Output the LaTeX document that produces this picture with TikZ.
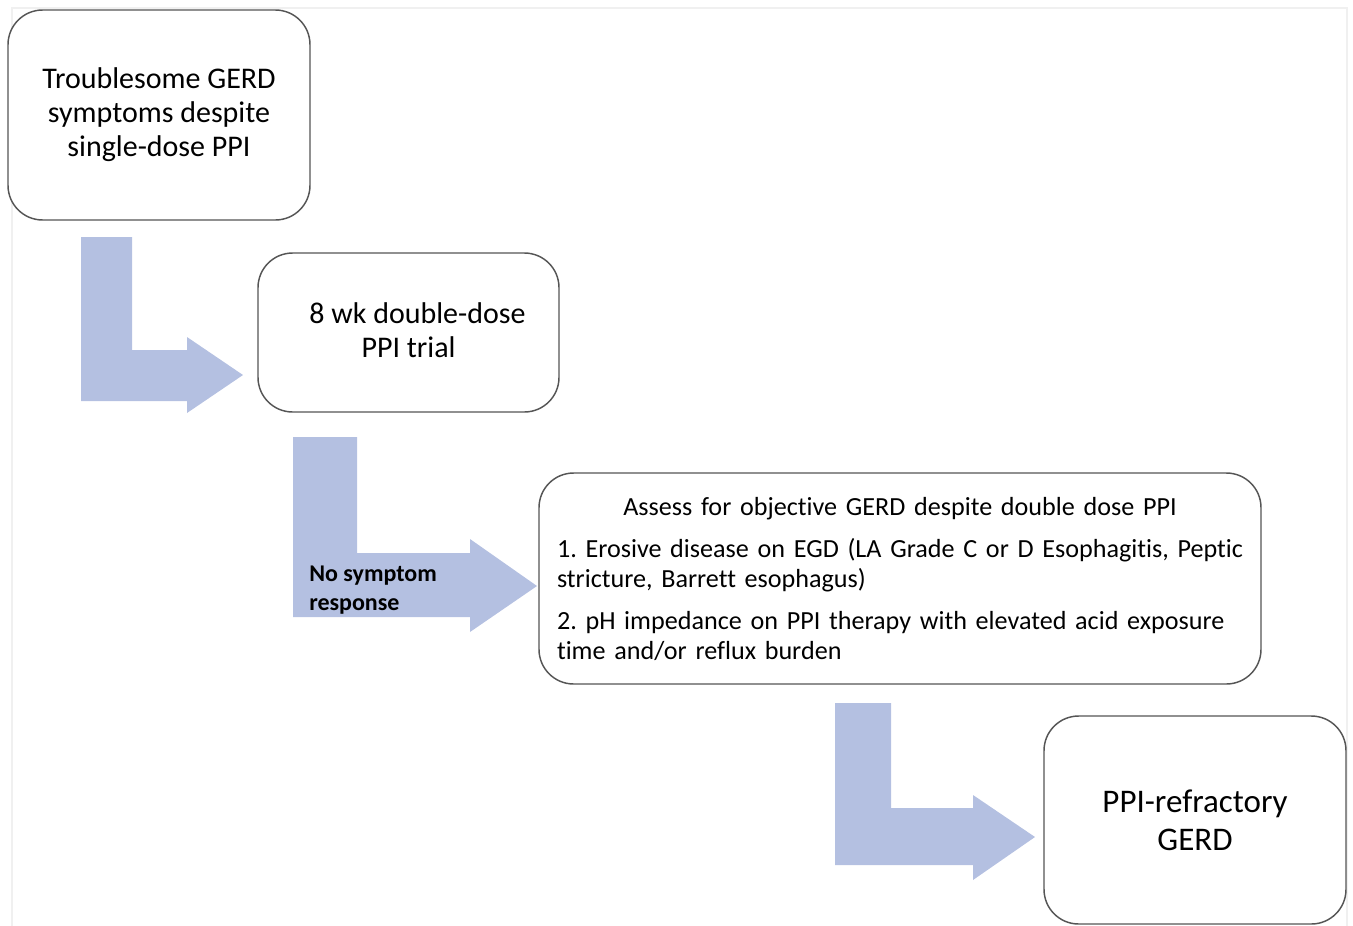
\documentclass[tikz,border=0pt]{standalone}
\usepackage{fontspec}
\setmainfont{Carlito}[Ligatures=NoCommon]
\usetikzlibrary{positioning}
\definecolor{TurnBlue}{HTML}{B4C0E1}
\definecolor{BoxLine}{HTML}{555555}

\begin{document}
\begin{tikzpicture}[
  x=0.75pt,y=-0.75pt,
  box/.style={draw=BoxLine,line width=1.1pt,rounded corners=26pt,fill=white,
              align=center,inner sep=0pt},
  bigtxt/.style={font=\fontsize{22.5pt}{25.5pt}\selectfont},
  turn/.style={fill=TurnBlue},
]
\useasboundingbox (0,0) rectangle (1353,925);
\draw[black!6,line width=0.8pt] (12,8) rectangle (1347,935);

% bent arrows
\fill[turn] (81,237) -- (132,237) -- (132,350) -- (187,350) -- (187,337)
  -- (243,375) -- (187,413) -- (187,401) -- (81,401) -- cycle;
\fill[turn] (293,437) -- (357,437) -- (357,553) -- (470,553) -- (470,539)
  -- (537,586) -- (470,632) -- (470,617) -- (293,617) -- cycle;
\fill[turn] (835,703) -- (891,703) -- (891,808) -- (973,808) -- (973,795)
  -- (1035,837) -- (973,880) -- (973,865) -- (835,865) -- cycle;

\node[box,bigtxt,minimum width=226.5pt,minimum height=157.5pt] (start) at (159,115)
  {Troublesome GERD\\symptoms despite\\single-dose PPI};
\node[box,bigtxt,minimum width=225.75pt,minimum height=119.25pt] (trial) at (408.5,332.5)
  {\raisebox{4pt}{\hspace{0.6em}8 wk double-dose}\\\raisebox{4pt}{PPI trial}};
\node[box,minimum width=541.5pt,minimum height=158.25pt,text width=514.5pt,align=left,
      font=\fontsize{19.6pt}{22.5pt}\selectfont\frenchspacing] (assess) at (900,578.5)
  {\centering Assess for objective GERD despite double dose PPI\par\vspace{9pt}
   \raggedright\mbox{1. Erosive disease on EGD (LA Grade C or D Esophagitis, Peptic}\\
   stricture, Barrett esophagus)\\[9pt]
   \mbox{2. pH impedance on PPI therapy with elevated acid exposure}\\
   time and/or reflux burden};
\node[box,minimum width=226.5pt,minimum height=156pt,
      font=\fontsize{24.75pt}{28.5pt}\selectfont] (refract) at (1195,820)
  {\raisebox{-4pt}{PPI-refractory}\\\raisebox{-4pt}{GERD}};

\node[anchor=west,inner sep=0pt,align=left,
      font=\fontsize{18pt}{21.75pt}\selectfont\bfseries] (noresp) at (309,590)
  {No symptom\\response};
\end{tikzpicture}
\end{document}
